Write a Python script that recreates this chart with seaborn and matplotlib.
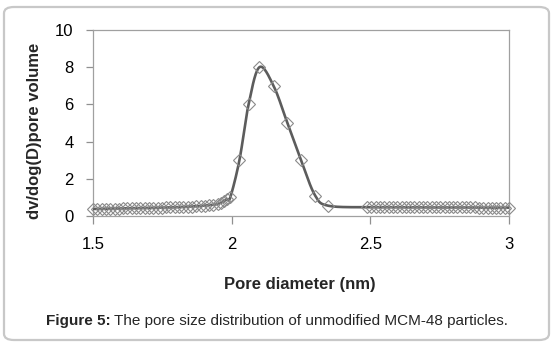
import numpy as np
import matplotlib
matplotlib.use("Agg")
import matplotlib.pyplot as plt
import seaborn as sns
from matplotlib.patches import FancyBboxPatch

# Pore size distribution of unmodified MCM-48 (BJH style)
pore_diameter = [
    1.500, 1.516, 1.531, 1.547, 1.562, 1.578, 1.593, 1.609, 1.624, 1.640,
    1.655, 1.671, 1.686, 1.702, 1.717, 1.733, 1.748, 1.764, 1.779, 1.795,
    1.810, 1.826, 1.841, 1.857, 1.872, 1.888, 1.903, 1.919, 1.934, 1.950,
    1.962, 1.972, 1.983, 1.995,
    2.028, 2.061, 2.100, 2.151, 2.201, 2.250, 2.301, 2.349,
    2.489, 2.504, 2.520, 2.535, 2.551, 2.566, 2.582, 2.597, 2.613, 2.628,
    2.644, 2.659, 2.675, 2.690, 2.706, 2.721, 2.737, 2.752, 2.768, 2.783,
    2.799, 2.814, 2.830, 2.845, 2.861, 2.876, 2.892, 2.907, 2.923, 2.938,
    2.954, 2.969, 2.985, 3.000,
]
dv_dlogd = [
    0.38, 0.38, 0.39, 0.39, 0.40, 0.40, 0.40, 0.41, 0.41, 0.42,
    0.42, 0.43, 0.43, 0.44, 0.44, 0.45, 0.45, 0.46, 0.46, 0.47,
    0.48, 0.49, 0.50, 0.51, 0.52, 0.54, 0.56, 0.58, 0.60, 0.65,
    0.72, 0.80, 0.90, 1.00,
    3.00, 6.00, 8.00, 7.00, 5.00, 3.00, 1.10, 0.55,
    0.47, 0.47, 0.47, 0.47, 0.47, 0.47, 0.47, 0.47, 0.47, 0.47,
    0.47, 0.47, 0.47, 0.47, 0.46, 0.46, 0.46, 0.46, 0.46, 0.46,
    0.46, 0.46, 0.46, 0.46, 0.46, 0.46, 0.45, 0.45, 0.45, 0.45,
    0.45, 0.45, 0.45, 0.45,
]
x_ticks = [1.5, 2.0, 2.5, 3.0]
x_tick_labels = ["1.5", "2", "2.5", "3"]
y_ticks = [0, 2, 4, 6, 8, 10]


def smooth_curve(x, y, samples=16):
    """Catmull-Rom curve through the points (like a spreadsheet 'smoothed line')."""
    pts = np.column_stack([x, y]).astype(float)
    p = np.vstack([pts[0], pts, pts[-1]])
    t = np.linspace(0, 1, samples, endpoint=False)[:, None]
    segs = []
    for i in range(1, len(p) - 2):
        p0, p1, p2, p3 = p[i - 1], p[i], p[i + 1], p[i + 2]
        seg = 0.5 * (2 * p1 + (-p0 + p2) * t
                     + (2 * p0 - 5 * p1 + 4 * p2 - p3) * t ** 2
                     + (-p0 + 3 * p1 - 3 * p2 + p3) * t ** 3)
        segs.append(seg)
    segs.append(pts[-1][None, :])
    c = np.vstack(segs)
    return c[:, 0], c[:, 1]


sns.set_theme(style="white")
plt.rcParams["font.family"] = ["Liberation Sans", "DejaVu Sans"]

W, H = 553, 345
fig = plt.figure(figsize=(W / 100, H / 100), dpi=100)
fig.patch.set_facecolor("white")

# rounded outer frame
frame = FancyBboxPatch((4 / W, 5 / H), 545 / W, 333 / H,
                       boxstyle="round,pad=0,rounding_size=0.018",
                       transform=fig.transFigure, facecolor="none",
                       edgecolor="#c8c8c8", linewidth=1.6)
fig.patches.append(frame)

ax = fig.add_axes([93 / W, 1 - 216 / H, (509 - 93) / W, (216 - 30) / H])

sx, sy = smooth_curve(pore_diameter, dv_dlogd)
sns.lineplot(x=sx, y=sy, sort=False, estimator=None, ax=ax,
             color="#5c5c5c", linewidth=1.9, zorder=3)
sns.lineplot(x=pore_diameter, y=dv_dlogd, sort=False, estimator=None, ax=ax,
             linestyle="none", marker="D", markersize=6.5,
             markerfacecolor="none", markeredgecolor="#8a8a8a",
             markeredgewidth=0.8, zorder=4, clip_on=False)

ax.set_xlim(1.5, 3.0)
ax.set_ylim(0, 10)
ax.set_xticks(x_ticks)
ax.set_xticklabels(x_tick_labels)
ax.set_yticks(y_ticks)
ax.set_xlabel("")
ax.set_ylabel("")
for s in ax.spines.values():
    s.set_color("#a0a0a0")
    s.set_linewidth(0.9)
ax.tick_params(axis="x", direction="out", length=6, width=0.9, color="#909090",
               pad=9, labelsize=12, labelcolor="black", bottom=True)
ax.tick_params(axis="y", direction="out", length=5, width=0.9, color="#909090",
               pad=9, labelsize=12, labelcolor="black", left=True)

fig.text(35 / W, 1 - 131 / H, "dv/dog(D)pore volume", rotation=90,
         ha="center", va="center", fontsize=12, fontweight="bold")
fig.text(300 / W, 1 - 285 / H, "Pore diameter (nm)", ha="center",
         va="center", fontsize=12, fontweight="bold")

# caption: bold label followed by regular text
fig.canvas.draw()
r = fig.canvas.get_renderer()
cap_y = 1 - 321 / H
t1 = fig.text(46 / W, cap_y, "Figure 5:", ha="left", va="center",
              fontsize=11, fontweight="bold")
bb = t1.get_window_extent(renderer=r)
fig.text(bb.x1 / W + 3.5 / W, cap_y,
         "The pore size distribution of unmodified MCM-48 particles.",
         ha="left", va="center", fontsize=11)

fig.savefig("out.png", dpi=100)
